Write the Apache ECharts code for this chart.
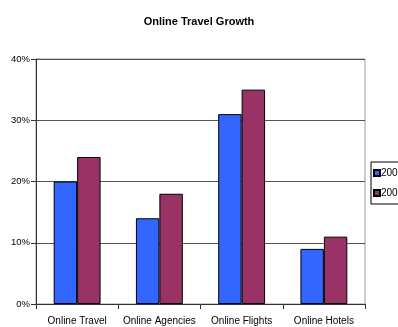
<!DOCTYPE html>
<html><head><meta charset="utf-8">
<script src="https://cdn.jsdelivr.net/npm/echarts@6/dist/echarts.min.js"></script>
<style>html,body{margin:0;padding:0;background:#fff}#c{width:398px;height:327px}</style>
</head><body><div id="c"></div>
<script>
const categories = ['Online Travel', 'Online Agencies', 'Online Flights', 'Online Hotels'];
const seriesNames = ['2007', '2009'];
const values2007 = [0.20, 0.14, 0.31, 0.09];
const values2009 = [0.24, 0.18, 0.35, 0.11];
const yTicks = [0, 0.1, 0.2, 0.3, 0.4];

const FONT = "'Liberation Sans Narrow', 'Arial Narrow', 'Liberation Sans', Arial, sans-serif";
const chart = echarts.init(document.getElementById('c'), null, {renderer: 'canvas'});
chart.setOption({
  animation: false,
  title: {
    text: 'Online Travel Growth', left: 'center', top: 11,
    textStyle: {fontFamily: FONT, fontSize: 11, fontWeight: 'bold', color: '#000'}
  },
  legend: {
    orient: 'vertical', left: 371, top: 162,
    data: seriesNames,
    itemWidth: 6, itemHeight: 6, itemGap: 10,
    borderColor: '#000', borderWidth: 1, padding: [6, 4, 6, 2],
    textStyle: {fontFamily: FONT, fontSize: 10, color: '#000', padding: [0, 0, 0, -4]},
    icon: 'rect'
  },
  grid: {left: 36, right: 33, top: 59, bottom: 23, show: true, borderColor: '#999', borderWidth: 1},
  xAxis: {
    type: 'category', data: categories,
    axisLine: {lineStyle: {color: '#333', width: 1}},
    axisTick: {show: true, length: 5, lineStyle: {color: '#333'}},
    axisLabel: {fontFamily: FONT, fontSize: 10, color: '#000', margin: 12, interval: 0}
  },
  yAxis: {
    type: 'value', min: yTicks[0], max: yTicks[yTicks.length - 1], interval: 0.1,
    axisLine: {show: true, lineStyle: {color: '#333', width: 1}},
    axisTick: {show: true, length: 5, lineStyle: {color: '#333'}},
    axisLabel: {fontFamily: FONT, fontSize: 9.5, color: '#000', margin: 6,
      formatter: v => Math.round(v * 100) + '%'},
    splitLine: {show: true, lineStyle: {color: '#555', width: 1}}
  },
  series: [
    {name: seriesNames[0], type: 'bar', data: values2007, barGap: '0%', barCategoryGap: '43%',
     itemStyle: {color: '#3366FF', borderColor: '#000', borderWidth: 1}},
    {name: seriesNames[1], type: 'bar', data: values2009,
     itemStyle: {color: '#993366', borderColor: '#000', borderWidth: 1}}
  ]
});
</script></body></html>
